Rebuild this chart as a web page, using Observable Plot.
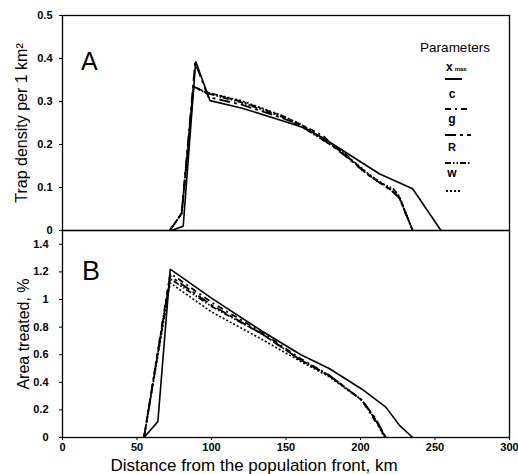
<!DOCTYPE html>
<html>
<head>
<meta charset="utf-8">
<script src="https://cdn.jsdelivr.net/npm/d3@7"></script>
<script src="https://cdn.jsdelivr.net/npm/@observablehq/plot@0.6"></script>
<style>
  html, body { margin: 0; padding: 0; background: #fff; }
  #wrap { position: relative; width: 518px; height: 474px; overflow: hidden; font-family: "Liberation Sans", Arial, sans-serif; }
  #wrap svg.plot { position: absolute; left: 0; overflow: visible; }
  #a { top: 0; }
  #b { top: 229px; }
  .letter { position: absolute; font-size: 25px; line-height: 1; color: #000; }
</style>
</head>
<body>
<div id="wrap"></div>
<script>
// ---- data (km, value) ----
const xTicks = [0, 50, 100, 150, 200, 250, 300];
const yTicksA = [0, 0.1, 0.2, 0.3, 0.4, 0.5];
const yTicksB = [0, 0.2, 0.4, 0.6, 0.8, 1, 1.2, 1.4];
const seriesNames = ["xmax", "c", "g", "R", "w"];

// Panel A: trap density per 1 km^2
const aXmax = [[73,0],[81,0.01],[89.4,0.393],[99,0.302],[120,0.285],[147,0.256],[161,0.24],[175,0.215],[190,0.182],[212.6,0.132],[235,0.097],[254,0]];
const aC    = [[72,0],[80,0.04],[88,0.335],[96,0.322],[120,0.3],[147,0.267],[161,0.245],[175,0.22],[183,0.194],[197,0.155],[206,0.128],[221,0.093],[226,0.077],[235,0]];
const aG    = [[72,0],[80,0.04],[89,0.39],[98,0.31],[120,0.293],[147,0.262],[161,0.243],[183,0.192],[197,0.153],[206,0.127],[221,0.092],[226,0.076],[235,0]];
const aR    = [[72,0],[80,0.04],[88,0.335],[96,0.32],[120,0.298],[147,0.265],[161,0.24],[175,0.21],[190,0.178],[201,0.14],[212.6,0.112],[222,0.097],[226,0.08],[235,0]];
const aW    = [[72,0],[80,0.04],[88,0.335],[96,0.322],[120,0.302],[147,0.268],[161,0.245],[183,0.195],[197,0.156],[206,0.13],[221,0.094],[226,0.077],[235,0]];

// Panel B: area treated, %
const bXmax = [[54.7,0],[64,0.115],[72.3,1.22],[100,1.01],[134,0.77],[160,0.6],[179,0.5],[201,0.35],[217,0.22],[226,0.09],[235,0]];
const bC    = [[54.7,0],[72.3,1.19],[100,0.98],[134,0.76],[160,0.57],[179,0.45],[201,0.27],[208,0.15],[217,0]];
const bG    = [[54.7,0],[72.3,1.17],[100,0.96],[134,0.75],[160,0.56],[179,0.45],[201,0.27],[210,0.14],[217,0]];
const bR    = [[54.7,0],[72.3,1.15],[100,0.95],[134,0.75],[160,0.56],[179,0.45],[201,0.27],[210,0.13],[217,0]];
const bW    = [[54.7,0],[72.3,1.12],[100,0.91],[134,0.71],[160,0.55],[179,0.44],[201,0.27],[210,0.13],[216,0]];

// ---- styles ----
const dash = { xmax: null, c: "6,4,2,4", g: "11,4,3,4", R: "6,2,1.5,2,1.5,2", w: "2,2" };
const width = { xmax: 1.6, c: 1.8, g: 1.8, R: 1.8, w: 1.6 };
const font = "Liberation Sans, Arial, sans-serif";

function rows(list) {
  return list.flatMap(([name, pts]) => pts.map(([km, v]) => ({ name, km, v })));
}
const dataA = rows([["xmax", aXmax], ["c", aC], ["g", aG], ["R", aR], ["w", aW]]);
const dataB = rows([["xmax", bXmax], ["c", bC], ["g", bG], ["R", bR], ["w", bW]]);

function lineMarks(data) {
  return seriesNames.map(n => Plot.line(data.filter(d => d.name === n), {
    x: "km", y: "v", stroke: "#000", strokeWidth: width[n],
    strokeDasharray: dash[n], strokeLinejoin: "miter", strokeLinecap: "butt"
  }));
}

const fmt = d => d === 0 ? "0" : (Number.isInteger(d) ? String(d) : d.toFixed(1));

const plotA = Plot.plot({
  width: 518, height: 232,
  marginTop: 15, marginBottom: 2, marginLeft: 62, marginRight: 9,
  style: { fontFamily: font, fontSize: "11px", fontWeight: "bold", background: "transparent" },
  x: { domain: [0, 300], axis: null },
  y: { domain: [0, 0.5], axis: null },
  marks: [
    Plot.frame({ stroke: "#000", strokeWidth: 1.3 }),
    Plot.axisY({ ticks: yTicksA, tickFormat: fmt, tickSize: 3, tickPadding: 7, label: null }),
    Plot.text(["Trap density per 1 km²"], { frameAnchor: "left", rotate: -90, dx: -41,
      textAnchor: "middle", lineAnchor: "middle",
      fontSize: 16, fontWeight: "normal", fill: "#000" }),
    ...lineMarks(dataA)
  ]
});
plotA.id = "a";
plotA.classList.add("plot");

const plotB = Plot.plot({
  width: 518, height: 245,
  marginTop: 1, marginBottom: 37, marginLeft: 62, marginRight: 9,
  style: { fontFamily: font, fontSize: "11px", fontWeight: "bold", background: "transparent" },
  x: { domain: [0, 300], axis: null },
  y: { domain: [0, 1.5], axis: null },
  marks: [
    Plot.frame({ stroke: "#000", strokeWidth: 1.3 }),
    Plot.axisY({ ticks: yTicksB, tickFormat: fmt, tickSize: 3, tickPadding: 11, label: null }),
    Plot.axisX({ ticks: xTicks, tickFormat: d => String(d), tickSize: 3, tickPadding: 3, label: null }),
    Plot.text(["Area treated, %"], { frameAnchor: "left", rotate: -90, dx: -39,
      textAnchor: "middle", lineAnchor: "middle",
      fontSize: 16, fontWeight: "normal", fill: "#000" }),
    Plot.text(["Distance from the population front, km"], { frameAnchor: "bottom", dx: -32, dy: 28,
      textAnchor: "middle", lineAnchor: "middle",
      fontSize: 17, fontWeight: "normal", fill: "#000" }),
    ...lineMarks(dataB)
  ]
});
plotB.id = "b";
plotB.classList.add("plot");

const wrap = document.getElementById("wrap");
wrap.appendChild(plotA);
wrap.appendChild(plotB);

// panel letters
for (const [t, l, tp, fs] of [["A", 81, 49, 25], ["B", 82, 258, 27]]) {
  const d = document.createElement("div");
  d.className = "letter"; d.textContent = t;
  d.style.left = l + "px"; d.style.top = tp + "px"; d.style.fontSize = fs + "px";
  wrap.appendChild(d);
}

// legend
const ns = "http://www.w3.org/2000/svg";
const leg = document.createElementNS(ns, "svg");
leg.setAttribute("width", 518); leg.setAttribute("height", 474);
leg.style.position = "absolute"; leg.style.left = "0"; leg.style.top = "0";
leg.style.fontFamily = font;
function txt(x, y, s, size, anchor, weight) {
  const t = document.createElementNS(ns, "text");
  t.setAttribute("x", x); t.setAttribute("y", y);
  t.setAttribute("font-size", size); t.setAttribute("text-anchor", anchor || "middle");
  if (weight) t.setAttribute("font-weight", weight);
  t.textContent = s; leg.appendChild(t); return t;
}
function seg(x1, x2, y, n) {
  const l = document.createElementNS(ns, "line");
  l.setAttribute("x1", x1); l.setAttribute("x2", x2);
  l.setAttribute("y1", y); l.setAttribute("y2", y);
  l.setAttribute("stroke", "#000"); l.setAttribute("stroke-width", 2);
  if (dash[n]) l.setAttribute("stroke-dasharray", dash[n]);
  leg.appendChild(l);
}
txt(455, 52, "Parameters", 13.5);
const xm = txt(446, 71, "x", 12, "start", "bold");
const sub = document.createElementNS(ns, "tspan");
sub.setAttribute("font-size", 6); sub.setAttribute("dx", 2); sub.setAttribute("font-weight", "bold");
sub.textContent = "max";
xm.appendChild(sub);
seg(445, 462, 79, "xmax");
txt(452, 98, "c", 12, "middle", "bold"); seg(445, 471, 109, "c");
txt(452, 123, "g", 12, "middle", "bold"); seg(445, 471, 135, "g");
txt(452, 151, "R", 11, "middle", "bold"); seg(445, 471, 163, "R");
txt(452, 177, "w", 12, "middle", "bold"); seg(446, 462, 191, "w");
wrap.appendChild(leg);
</script>
</body>
</html>
